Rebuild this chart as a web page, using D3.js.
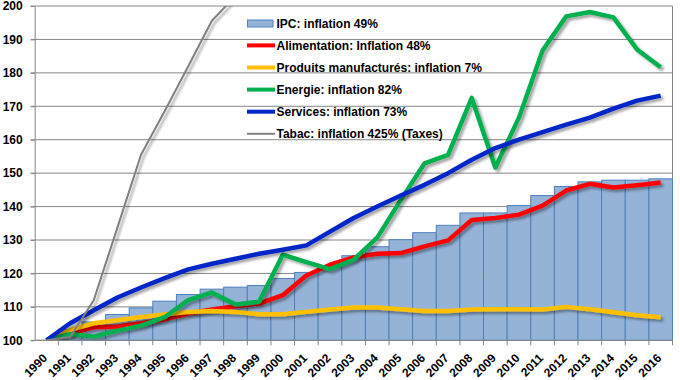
<!DOCTYPE html>
<html>
<head>
<meta charset="utf-8">
<script src="https://cdn.jsdelivr.net/npm/d3@7"></script>
<style>
  body { margin: 0; background: #fff; }
  svg { display: block; font-family: "Liberation Sans", Arial, sans-serif; font-weight: bold; }
</style>
</head>
<body>
<div id="chart"></div>
<script>
// Indices des prix, base 100 en 1990
const years = d3.range(1990, 2017);
const ipc = [100, 103.3, 105.5, 107.7, 109.7, 111.7, 113.7, 115.3, 115.9, 116.4, 118.5, 120.3, 121.8, 125.3, 128, 130.1, 132.2, 134.4, 138.1, 138.1, 140.3, 143.3, 146, 147.4, 147.9, 147.9, 148.3];
const alimentation = [100, 102.1, 103.9, 104.1, 105.1, 106.3, 108, 109.2, 110.2, 111, 113.5, 119.4, 122.6, 124.8, 125.9, 126.1, 128.1, 129.9, 136, 136.6, 137.6, 140.3, 144.8, 146.8, 145.7, 146.4, 147.2];
const produits = [100, 103.1, 105.1, 106, 107, 107.7, 108.5, 108.8, 108.5, 107.8, 107.8, 108.5, 109.2, 109.8, 109.8, 109.3, 108.8, 108.8, 109.2, 109.3, 109.3, 109.2, 110, 109.3, 108.4, 107.5, 106.9];
const energie = [100, 101.9, 101.1, 102.9, 104.4, 106.9, 112, 114.3, 110.7, 111.5, 125.6, 123.4, 121.3, 124.1, 130.7, 142, 152.9, 155.5, 172.5, 151.7, 166.6, 186.7, 196.9, 198.2, 196.6, 187, 181.7];
const services = [100, 105.1, 109, 112.8, 115.8, 118.6, 121.2, 122.9, 124.4, 125.9, 127.1, 128.4, 132.5, 136.6, 140, 143.3, 146.5, 150, 154, 157.5, 160, 162.3, 164.5, 166.6, 169.3, 171.7, 173.2];
const tabac = [100, 101, 112, 133.7, 155.5, 168.5, 182, 195.6, 203, 210, 218, 226, 238, 265, 300, 305, 318, 332, 345, 352, 368, 385, 410, 440, 470, 498, 525];

const legendLabels = [
  "IPC: inflation 49%",
  "Alimentation: Inflation 48%",
  "Produits manufacturés: inflation 7%",
  "Energie: inflation 82%",
  "Services: inflation 73%",
  "Tabac: inflation 425% (Taxes)"
];
const yTicks = d3.range(100, 201, 10);

const lineSeries = [
  { values: alimentation, color: "#FF0000", width: 4.5 },
  { values: produits, color: "#FFC000", width: 4.5 },
  { values: energie, color: "#00B050", width: 4.5 },
  { values: services, color: "#0026C8", width: 4.5 },
  { values: tabac, color: "#808080", width: 2 }
];

const W = 680, H = 380;
const margin = { top: 6, right: 7.5, bottom: 39.7, left: 34.7 };

const svg = d3.select("#chart").append("svg")
  .attr("width", W).attr("height", H);

const defs = svg.append("defs");
defs.append("clipPath").attr("id", "plot-clip")
  .append("rect")
  .attr("x", margin.left).attr("y", margin.top)
  .attr("width", W - margin.left - margin.right)
  .attr("height", H - margin.top - margin.bottom);
defs.append("filter").attr("id", "shadow")
  .attr("x", "-10%").attr("y", "-10%").attr("width", "120%").attr("height", "120%")
  .append("feDropShadow")
  .attr("dx", 2.5).attr("dy", 2.5).attr("stdDeviation", 1.2)
  .attr("flood-color", "#000").attr("flood-opacity", 0.35);

const x = d3.scaleBand().domain(years).range([margin.left, W - margin.right]).padding(0);
const y = d3.scaleLinear().domain([100, 200]).range([H - margin.bottom, margin.top]);

// gridlines
svg.append("g")
  .selectAll("line")
  .data(yTicks)
  .join("line")
  .attr("x1", margin.left - 4).attr("x2", W - margin.right)
  .attr("y1", d => y(d)).attr("y2", d => y(d))
  .attr("stroke", "#868686").attr("stroke-width", 1);

// right border of plot area
svg.append("line")
  .attr("x1", W - margin.right).attr("x2", W - margin.right)
  .attr("y1", margin.top).attr("y2", y(100))
  .attr("stroke", "#868686");

// IPC bars
svg.append("g")
  .selectAll("rect")
  .data(years)
  .join("rect")
  .attr("x", d => x(d))
  .attr("width", x.bandwidth())
  .attr("y", (d, i) => y(ipc[i]))
  .attr("height", (d, i) => y(100) - y(ipc[i]))
  .attr("fill", "#95B3D7")
  .attr("stroke", "#4F81BD")
  .attr("stroke-width", 1);

// lines
const line = d3.line()
  .x((d, i) => x(years[i]) + x.bandwidth() / 2)
  .y(d => y(d));

const lines = svg.append("g").attr("clip-path", "url(#plot-clip)");
lineSeries.forEach(s => {
  lines.append("path")
    .datum(s.values)
    .attr("d", line)
    .attr("fill", "none")
    .attr("stroke", s.color)
    .attr("stroke-width", s.width)
    .attr("stroke-linejoin", "round")
    .attr("filter", "url(#shadow)");
});

// axes
const axisY = svg.append("g")
  .attr("transform", `translate(${margin.left},0)`)
  .call(d3.axisLeft(y).tickValues(yTicks).tickSize(4).tickPadding(8).tickSizeOuter(0));
axisY.select(".domain").attr("stroke", "#868686");
axisY.selectAll(".tick line").attr("stroke", "#868686");
axisY.selectAll("text").attr("font-size", 12).attr("font-weight", "bold")
  .attr("font-family", "Liberation Sans, Arial, sans-serif").attr("fill", "#000");

const axisX = svg.append("g");
axisX.append("line")
  .attr("x1", margin.left).attr("x2", W - margin.right)
  .attr("y1", y(100)).attr("y2", y(100))
  .attr("stroke", "#868686");
axisX.selectAll("line.tick")
  .data(years.slice(1).concat(["end"]))
  .join("line")
  .attr("class", "tick")
  .attr("x1", d => d === "end" ? W - margin.right : x(d))
  .attr("x2", d => d === "end" ? W - margin.right : x(d))
  .attr("y1", y(100)).attr("y2", y(100) + 5)
  .attr("stroke", "#868686");
axisX.selectAll("text")
  .data(years)
  .join("text")
  .attr("transform", d => `translate(${x(d) + x.bandwidth() / 2 + 1.5},${y(100) + 18.5}) rotate(-45)`)
  .attr("text-anchor", "end")
  .attr("font-size", 12)
  .attr("fill", "#000")
  .text(d => d);

// legend
const legend = svg.append("g").attr("transform", "translate(247,23.3)");
legendLabels.forEach((label, i) => {
  const row = legend.append("g").attr("transform", `translate(0,${i * 22.1})`);
  if (i === 0) {
    row.append("rect")
      .attr("x", 0.5).attr("y", -3.3).attr("width", 25.5).attr("height", 7)
      .attr("fill", "#95B3D7").attr("stroke", "#4F81BD");
  } else {
    const s = lineSeries[i - 1];
    row.append("line")
      .attr("x1", 0).attr("x2", 28).attr("y1", 0).attr("y2", 0)
      .attr("stroke", s.color).attr("stroke-width", s.width === 2 ? 2 : 4);
  }
  row.append("text")
    .attr("x", 29.5).attr("y", 4.3)
    .attr("font-size", 12).attr("fill", "#000")
    .text(label);
});
</script>
</body>
</html>
